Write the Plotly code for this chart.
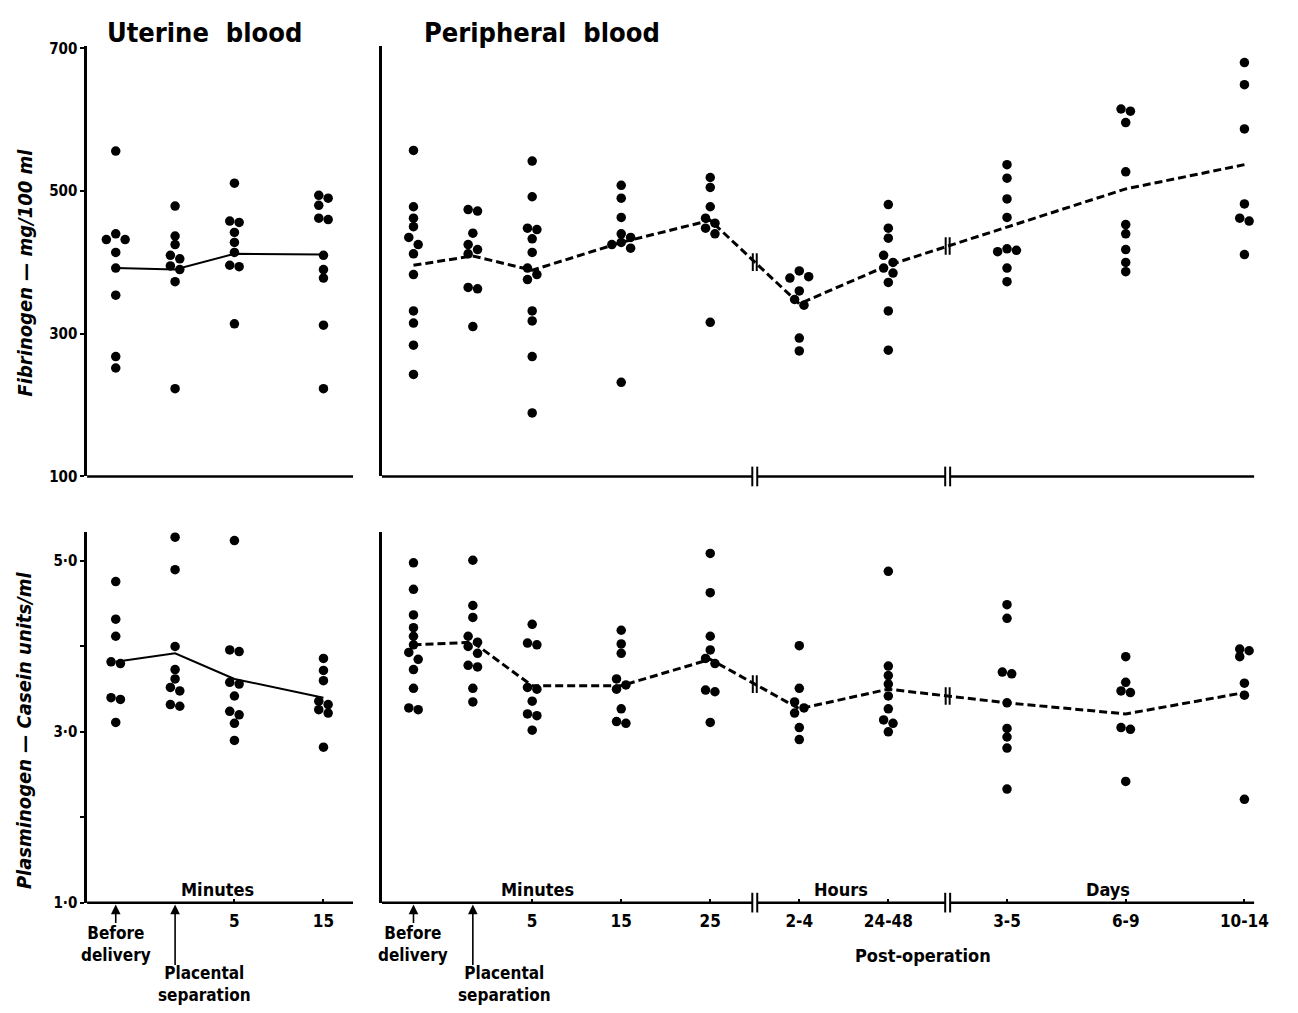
import plotly.graph_objects as go

# ---------------- data ----------------
UT_CATS = ["Before delivery", "Placental separation", "5", "15"]
PER_CATS = ["Before delivery", "Placental separation", "5", "15", "25",
            "2-4", "24-48", "3-5", "6-9", "10-14"]

# Fibrinogen, mg/100 ml - uterine blood
UT_FIB = [
    [556, 440, 432, 432, 414, 392, 354, 268, 252],
    [479, 437, 425, 410, 405, 395, 390, 373, 223],
    [511, 458, 456, 442, 428, 414, 396, 394, 314],
    [494, 490, 480, 462, 460, 410, 390, 378, 312, 223],
]
UT_FIB_MEAN = [392, 390, 412, 411]

# Fibrinogen, mg/100 ml - peripheral blood
PER_FIB = [
    [557, 478, 462, 450, 435, 425, 412, 383, 332, 315, 284, 243],
    [474, 472, 441, 425, 418, 412, 365, 363, 310],
    [542, 492, 448, 446, 433, 414, 392, 383, 376, 332, 318, 268, 189],
    [508, 490, 463, 440, 435, 428, 425, 420, 232],
    [519, 505, 478, 462, 455, 448, 440, 316],
    [388, 380, 378, 360, 348, 340, 294, 276],
    [481, 448, 434, 410, 400, 392, 385, 372, 332, 277],
    [537, 518, 489, 463, 419, 417, 415, 392, 373],
    [615, 612, 596, 527, 453, 440, 418, 400, 387],
    [680, 649, 587, 482, 462, 458, 411],
]
PER_FIB_MEAN = [396, 409, 389, 428, 459, 342, 396, 450, 503, 537]

# Plasminogen, casein units/ml - uterine blood
UT_PLG = [
    [4.76, 4.32, 4.12, 3.82, 3.80, 3.40, 3.38, 3.11],
    [5.28, 4.90, 4.00, 3.73, 3.62, 3.52, 3.48, 3.32, 3.30],
    [5.24, 3.96, 3.94, 3.58, 3.56, 3.42, 3.24, 3.20, 3.10, 2.90],
    [3.86, 3.72, 3.60, 3.36, 3.32, 3.26, 3.22, 2.82],
]
UT_PLG_MEAN = [3.82, 3.92, 3.62, 3.40]

# Plasminogen, casein units/ml - peripheral blood
PER_PLG = [
    [4.98, 4.67, 4.37, 4.22, 4.12, 4.02, 3.93, 3.85, 3.73, 3.51, 3.28, 3.26],
    [5.01, 4.48, 4.34, 4.12, 4.05, 4.00, 3.92, 3.78, 3.76, 3.51, 3.35],
    [4.26, 4.04, 4.02, 3.52, 3.50, 3.36, 3.21, 3.19, 3.02],
    [4.19, 4.03, 3.92, 3.62, 3.55, 3.50, 3.27, 3.12, 3.10],
    [5.09, 4.63, 4.12, 3.96, 3.86, 3.80, 3.49, 3.47, 3.11],
    [4.01, 3.51, 3.35, 3.28, 3.22, 3.05, 2.91],
    [4.88, 3.77, 3.66, 3.56, 3.42, 3.27, 3.14, 3.10, 3.00],
    [4.49, 4.33, 3.70, 3.68, 3.34, 3.04, 2.94, 2.81, 2.33],
    [3.88, 3.58, 3.48, 3.46, 3.05, 3.03, 2.42],
    [3.97, 3.95, 3.88, 3.57, 3.43, 2.21],
]
PER_PLG_MEAN = [4.02, 4.05, 3.54, 3.54, 3.85, 3.27, 3.50, 3.34, 3.21, 3.46]

FIB_TICKS = [100, 300, 500, 700]
FIB_TICKTEXT = ["100", "300", "500", "700"]
PLG_TICKS = [1, 2, 3, 4, 5]
PLG_TICKTEXT = ["1·0", "", "3·0", "", "5·0"]

# ---------------- layout constants ----------------
W, H = 1298, 1013
UT_POS = [0, 2, 4, 7]
PER_POS = [0, 2, 4, 7, 10, 13, 16, 20, 24, 28]
BREAKS = [11.5, 18]
XPX = 30.0  # pixels per x unit
FONT = "DejaVu Sans Condensed, Liberation Sans Narrow, DejaVu Sans, sans-serif"


def px(x):
    return x / W


def py(y):
    return 1 - y / H


LEFT_DOM = [px(88), px(357)]
RIGHT_DOM = [px(386), px(1268)]
LEFT_RANGE = [(88 - 117) / XPX, (357 - 117) / XPX]
RIGHT_RANGE = [(386 - 418) / XPX, (1268 - 418) / XPX]
TOP_DOM = [py(477), py(40)]
BOT_DOM = [py(910), py(533)]
TOP_PPU = 0.725
BOT_PPU = 86.75
TOP_RANGE = [100, 100 + (477 - 40) / TOP_PPU]
BOT_RANGE = [1.0, 1.0 + (910 - 533) / BOT_PPU]
TOP_HPX = 477 - 40
BOT_HPX = 910 - 533

MSIZE = 9.5


def dodge(vals, ppu, d=MSIZE):
    """Greedy horizontal dodge so touching points sit side by side."""
    order = sorted(range(len(vals)), key=lambda i: -vals[i])
    placed = []
    offs = [0.0] * len(vals)
    cands = [0, 1, -1, 2, -2, 3, -3]
    for i in order:
        y = vals[i] * ppu
        for c in cands:
            xo = c * d
            if all((xo - a) ** 2 + (y - b) ** 2 >= (0.8 * d) ** 2 for a, b in placed):
                break
        placed.append((xo, y))
        offs[i] = xo
    # centre each horizontally-spread run of points on its category
    out = [0.0] * len(vals)
    idx = sorted(range(len(vals)), key=lambda i: -vals[i])
    groups, cur = [], [idx[0]]
    for a, b in zip(idx, idx[1:]):
        if (vals[a] - vals[b]) * ppu < 0.8 * d:
            cur.append(b)
        else:
            groups.append(cur)
            cur = [b]
    groups.append(cur)
    for g in groups:
        xs = [offs[i] for i in g]
        shift = (max(xs) + min(xs)) / 2
        for i in g:
            out[i] = (offs[i] - shift) / XPX
    return out


fig = go.Figure()
shapes = []

panels = [
    (UT_FIB, UT_FIB_MEAN, UT_POS, "x", "y", TOP_PPU, False, TOP_HPX),
    (PER_FIB, PER_FIB_MEAN, PER_POS, "x2", "y2", TOP_PPU, True, TOP_HPX),
    (UT_PLG, UT_PLG_MEAN, UT_POS, "x3", "y3", BOT_PPU, False, BOT_HPX),
    (PER_PLG, PER_PLG_MEAN, PER_POS, "x4", "y4", BOT_PPU, True, BOT_HPX),
]

for data, means, pos, xa, ya, ppu, periph, hpx in panels:
    xs, ys = [], []
    for p, grp in zip(pos, data):
        offs = dodge(grp, ppu)
        for v, o in zip(grp, offs):
            xs.append(p + o)
            ys.append(v)
    fig.add_trace(go.Scatter(
        x=pos, y=means, mode="lines", xaxis=xa, yaxis=ya,
        line=dict(color="black", width=3 if periph else 2,
                  dash="8px,4px" if periph else "solid"),
        hoverinfo="skip", showlegend=False))
    fig.add_trace(go.Scatter(
        x=xs, y=ys, mode="markers", xaxis=xa, yaxis=ya,
        marker=dict(size=MSIZE, color="black", symbol="circle",
                    line=dict(width=0)),
        showlegend=False))

    rng = RIGHT_RANGE if periph else LEFT_RANGE
    gap = 2.5 / XPX
    segs = []
    start = rng[0]
    if periph:
        for b in BREAKS:
            segs.append((start, b - gap))
            start = b + gap
    segs.append((start, rng[1]))
    for a, b in segs:
        shapes.append(dict(type="line", xref=xa, yref=ya + " domain",
                           x0=a, x1=b, y0=0, y1=0,
                           line=dict(color="black", width=2.5)))
    if periph:
        hh = 10 / hpx
        for b in BREAKS:
            for s in (-1, 1):
                shapes.append(dict(type="line", xref=xa, yref=ya + " domain",
                                   x0=b + s * gap, x1=b + s * gap,
                                   y0=-hh, y1=hh,
                                   line=dict(color="black", width=2)))
            for i in range(len(pos) - 1):
                if pos[i] < b < pos[i + 1]:
                    t = (b - pos[i]) / (pos[i + 1] - pos[i])
                    yb = means[i] + t * (means[i + 1] - means[i])
                    dy = 9 / ppu
                    for s in (-1, 1):
                        shapes.append(dict(type="line", xref=xa, yref=ya,
                                           x0=b + s * 2 / XPX, x1=b + s * 2 / XPX,
                                           y0=yb - dy, y1=yb + dy,
                                           line=dict(color="black", width=2)))

axis_common = dict(showgrid=False, zeroline=False, showline=False)
tickfont = dict(family=FONT, size=17, color="black", weight="bold")


def xtick(cats, pos):
    vals, txt = [], []
    for c, p in zip(cats, pos):
        if c not in ("Before delivery", "Placental separation"):
            vals.append(p)
            txt.append(c)
    return vals, txt


ut_tv, ut_tt = xtick(UT_CATS, UT_POS)
per_tv, per_tt = xtick(PER_CATS, PER_POS)

xt_common = dict(tickmode="array", ticks="inside", ticklen=4, tickwidth=1.5,
                 tickcolor="black", tickfont=tickfont, ticklabelstandoff=6)
yt_common = dict(tickmode="array", ticks="outside", ticklen=4, tickwidth=1.5,
                 tickcolor="black", tickfont=dict(family=FONT, size=15, color="black", weight="bold"),
                 showline=True, linecolor="black", linewidth=2.5,
                 showgrid=False, zeroline=False)
yr_common = dict(showticklabels=False, ticks="", showline=True,
                 linecolor="black", linewidth=2.5, showgrid=False, zeroline=False)

fig.update_layout(
    width=W, height=H, autosize=False,
    margin=dict(l=0, r=0, t=0, b=0),
    paper_bgcolor="white", plot_bgcolor="white",
    font=dict(family=FONT, color="black"),
    xaxis=dict(domain=LEFT_DOM, range=LEFT_RANGE, anchor="y",
               showticklabels=False, ticks="", **axis_common),
    xaxis2=dict(domain=RIGHT_DOM, range=RIGHT_RANGE, anchor="y2",
                showticklabels=False, ticks="", **axis_common),
    xaxis3=dict(domain=LEFT_DOM, range=LEFT_RANGE, anchor="y3",
                tickvals=ut_tv, ticktext=ut_tt, **xt_common, **axis_common),
    xaxis4=dict(domain=RIGHT_DOM, range=RIGHT_RANGE, anchor="y4",
                tickvals=per_tv, ticktext=per_tt, **xt_common, **axis_common),
    yaxis=dict(domain=TOP_DOM, range=TOP_RANGE, anchor="x",
               tickvals=FIB_TICKS, ticktext=FIB_TICKTEXT, **yt_common),
    yaxis2=dict(domain=TOP_DOM, range=TOP_RANGE, anchor="x2", **yr_common),
    yaxis3=dict(domain=BOT_DOM, range=BOT_RANGE, anchor="x3",
                tickvals=PLG_TICKS, ticktext=PLG_TICKTEXT, **yt_common),
    yaxis4=dict(domain=BOT_DOM, range=BOT_RANGE, anchor="x4", **yr_common),
    shapes=shapes,
)

ann = []


def text(x, y, s, size=17, xref="paper", angle=0, xanchor="center"):
    ann.append(dict(x=x, y=y, xref=xref, yref="paper", text=s, showarrow=False,
                    textangle=angle, xanchor=xanchor, yanchor="middle",
                    font=dict(family=FONT, size=size, color="black", weight="bold")))


text(px(207), py(26), "Uterine  blood", size=27)
text(px(548), py(26), "Peripheral  blood", size=27)
text(px(25), py(270), "<i>Fibrinogen — mg/100 ml</i>", size=20, angle=-90)
text(px(25), py(735), "<i>Plasminogen — Casein units/ml</i>", size=20, angle=-90)
text(px(220), py(897), "Minutes", size=18)
text(px(543), py(897), "Minutes", size=18)
text(px(850), py(897), "Hours", size=18)
text(px(1120), py(897), "Days", size=18)
text(px(933), py(964), "Post-operation", size=18)

for xa, pos, plac_x in (("x3", UT_POS, 207), ("x4", PER_POS, 510)):
    ann.append(dict(x=pos[0], y=py(912), xref=xa, yref="paper", text="",
                    showarrow=True, ax=0, ay=20, axref="pixel", ayref="pixel",
                    arrowhead=2, arrowsize=1.2, arrowwidth=1.6, arrowcolor="black"))
    text(pos[0], py(952), "Before<br>delivery", size=17, xref=xa)
    ann.append(dict(x=pos[1], y=py(912), xref=xa, yref="paper", text="",
                    showarrow=True, ax=0, ay=62, axref="pixel", ayref="pixel",
                    arrowhead=2, arrowsize=1.2, arrowwidth=1.6, arrowcolor="black"))
    text(px(plac_x), py(993), "Placental<br>separation", size=17)

fig.update_layout(annotations=ann)

fig.write_html("out.html")
